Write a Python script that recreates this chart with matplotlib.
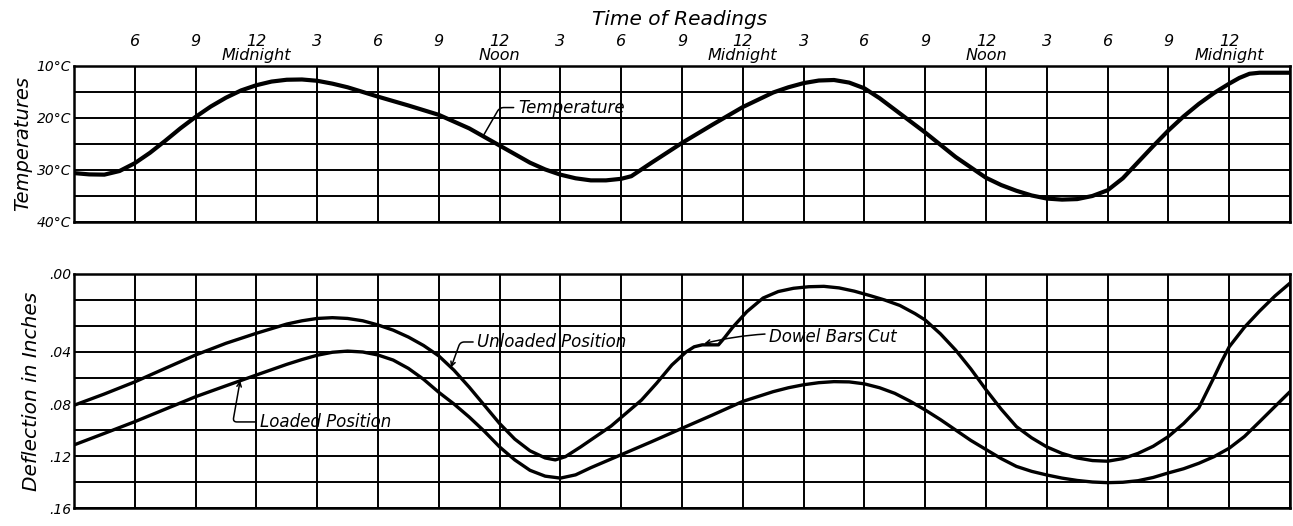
import numpy as np
import matplotlib
matplotlib.use("Agg")
import matplotlib.pyplot as plt

# Hours after 3 p.m. on the first day; gridlines every 3 hours
hours_grid = list(range(0, 61, 3))
time_labels = ["", "6\n", "9\n", "12\nMidnight", "3\n", "6\n", "9\n", "12\nNoon",
               "3\n", "6\n", "9\n", "12\nMidnight", "3\n", "6\n", "9\n", "12\nNoon",
               "3\n", "6\n", "9\n", "12\nMidnight", ""]

# Temperature readings (deg C)
temp_hours = [0, 0.75, 1.5, 2.25, 3, 3.75, 4.5, 5.25, 6, 6.75, 7.5, 8.25, 9, 9.75,
              10.5, 11.25, 12, 12.75, 13.5, 15, 16.5, 18, 19.5, 21, 22.5, 23.25, 24,
              24.75, 25.5, 26.25, 27, 27.5, 28.5, 30, 31.5, 33, 34.5, 35.25, 36,
              36.75, 37.5, 38.25, 39, 39.75, 40.5, 42, 43.5, 45, 45.75, 46.5, 47.25,
              48, 48.75, 49.5, 50.25, 51, 51.75, 52.5, 53.25, 54, 54.75, 55.5, 56.25,
              57, 57.5, 58, 58.5, 60]
temp_vals = [30.6, 30.85, 30.9, 30.2, 28.7, 26.7, 24.4, 22.0, 19.8, 17.8, 16.1, 14.7,
             13.7, 13.0, 12.65, 12.6, 12.85, 13.4, 14.1, 15.9, 17.6, 19.4, 22.0, 25.3,
             28.6, 29.9, 30.9, 31.6, 32.0, 32.0, 31.7, 31.2, 28.6, 24.8, 21.3, 17.9,
             15.1, 14.1, 13.3, 12.8, 12.7, 13.2, 14.3, 16.2, 18.4, 22.8, 27.5, 31.5,
             32.9, 34.0, 34.9, 35.5, 35.7, 35.6, 35.0, 33.9, 31.6, 28.5, 25.4, 22.4,
             19.7, 17.3, 15.2, 13.4, 12.3, 11.5, 11.3, 11.3]

# Deflection of the slab (inches)
unl_hours = [0, 1.5, 3, 4.5, 6, 7.5, 9, 10.5, 11.25, 12, 12.75, 13.5, 14.25, 15,
             15.75, 16.5, 17.25, 18, 18.75, 19.5, 20.25, 21, 21.75, 22.5, 23.25,
             23.75, 24.25, 25, 25.75, 26.5, 27.25, 28, 28.75, 29.5, 30.2, 30.6, 31.0,
             31.8, 32.1, 32.5, 33.2, 34, 34.75, 35.5, 36.25, 37, 37.75, 38.5, 39.25,
             40, 40.75, 41.5, 42, 42.75, 43.5, 44.25, 45, 45.75, 46.5, 47.25, 48,
             48.75, 49.5, 50.25, 51, 51.75, 52.5, 53.25, 54, 54.75, 55.5, 56.2, 56.6,
             57, 57.75, 58.5, 59.25, 60]
unl_vals = [0.081, 0.0723, 0.063, 0.0526, 0.0423, 0.0333, 0.0256, 0.0185, 0.0160,
            0.0142, 0.0136, 0.0142, 0.0160, 0.0192, 0.0232, 0.0285, 0.035, 0.043,
            0.054, 0.067, 0.081, 0.095, 0.107, 0.116, 0.1215, 0.123, 0.1205, 0.113,
            0.105, 0.097, 0.087, 0.077, 0.064, 0.050, 0.040, 0.036, 0.0345, 0.0345,
            0.029, 0.021, 0.009, -0.0015, -0.0065, -0.009, -0.0102, -0.0105, -0.0093,
            -0.0068, -0.0035, 0.0, 0.0042, 0.0105, 0.0154, 0.026, 0.0385, 0.053,
            0.069, 0.084, 0.0974, 0.106, 0.113, 0.118, 0.1215, 0.1235, 0.124, 0.122,
            0.118, 0.1125, 0.105, 0.095, 0.083, 0.061, 0.048, 0.036, 0.021, 0.0085,
            -0.003, -0.013]

load_hours = [0, 1.5, 3, 4.5, 6, 7.5, 9, 10.5, 11.25, 12, 12.75, 13.5, 14.25, 15,
              15.75, 16.5, 17.25, 18, 18.75, 19.5, 20.25, 21, 21.75, 22.5, 23.25, 24,
              24.75, 25.5, 27, 28.5, 30, 31.5, 33, 34.5, 35.25, 36, 36.75, 37.5,
              38.25, 39, 39.75, 40.5, 41.25, 42, 42.75, 43.5, 44.25, 45, 45.75, 46.5,
              47.25, 48, 48.75, 49.5, 50.25, 51, 51.75, 52.5, 53.25, 54, 54.75, 55.5,
              56.25, 57, 57.75, 58.5, 59.25, 60]
load_vals = [0.1115, 0.1026, 0.0936, 0.084, 0.0744, 0.066, 0.0577, 0.0495, 0.0458,
             0.0425, 0.0402, 0.0393, 0.0400, 0.0423, 0.0462, 0.0526, 0.061, 0.071,
             0.080, 0.090, 0.101, 0.113, 0.123, 0.131, 0.1355, 0.137, 0.1345, 0.129,
             0.119, 0.109, 0.0987, 0.0885, 0.078, 0.0705, 0.0675, 0.0652, 0.0636,
             0.0628, 0.0630, 0.0645, 0.0675, 0.0718, 0.0778, 0.0846, 0.092, 0.100,
             0.108, 0.115, 0.122, 0.128, 0.1318, 0.1346, 0.1370, 0.1388, 0.1400,
             0.1405, 0.1402, 0.139, 0.1365, 0.133, 0.1298, 0.1256, 0.1205, 0.114,
             0.105, 0.0936, 0.082, 0.0705]

temp_ticks = [10, 15, 20, 25, 30, 35, 40]
temp_labels = ["10°C", "", "20°C", "", "30°C", "", "40°C"]
defl_ticks = [-0.02, 0.0, 0.02, 0.04, 0.06, 0.08, 0.10, 0.12, 0.14, 0.16]
defl_labels = [".00", "", "", ".04", "", ".08", "", ".12", "", ".16"]

FONT = dict(family="DejaVu Sans", style="italic")

fig = plt.figure(figsize=(12.93, 5.26), dpi=100)
ax1 = fig.add_axes([0.0572, 0.578, 0.9405, 0.2966])
ax2 = fig.add_axes([0.0572, 0.0342, 0.9405, 0.4449])

for ax in (ax1, ax2):
    ax.set_xlim(0, 60)
    ax.set_xticks(hours_grid)
    ax.grid(True, color="black", linewidth=1.4)
    ax.tick_params(length=0, pad=2)
    for s in ax.spines.values():
        s.set_linewidth(1.8)
    ax.set_axisbelow(True)

# top panel: temperature
ax1.set_ylim(40, 10)
ax1.set_yticks(temp_ticks)
ax1.set_yticklabels(temp_labels, fontsize=10, **FONT)
ax1.xaxis.tick_top()
ax1.set_xticklabels(time_labels, fontsize=11.5, linespacing=0.9, **FONT)
ax1.set_ylabel("Temperatures", fontsize=14, labelpad=3, **FONT)
fig.text(0.526, 0.962, "Time of Readings", fontsize=14.5, ha="center", va="center",
         **FONT)
ax1.plot(temp_hours, temp_vals, color="black", linewidth=3,
         solid_joinstyle="round", solid_capstyle="round")
ax1.annotate("Temperature", xy=(20.2, 23.4), xytext=(21.9, 18.0),
             fontsize=12, va="center", ha="left", **FONT,
             arrowprops=dict(arrowstyle="-", color="black", lw=1.1,
                             connectionstyle="angle,angleA=180,angleB=60,rad=4",
                             shrinkA=1, shrinkB=0))

# bottom panel: deflection
ax2.set_ylim(0.16, -0.02)
ax2.set_yticks(defl_ticks)
ax2.set_yticklabels(defl_labels, fontsize=10, **FONT)
ax2.set_xticklabels([])
ax2.set_ylabel("Deflection in Inches", fontsize=14.5, labelpad=6, **FONT)
ax2.plot(unl_hours, unl_vals, color="black", linewidth=2.4,
         solid_joinstyle="round", solid_capstyle="round")
ax2.plot(load_hours, load_vals, color="black", linewidth=2.4,
         solid_joinstyle="round", solid_capstyle="round")

leader = dict(arrowstyle="->", color="black", lw=1.1, shrinkA=1, shrinkB=0,
              mutation_scale=8)
ax2.annotate("Unloaded Position", xy=(18.6, 0.052), xytext=(19.9, 0.0323),
             fontsize=12, va="center", ha="left", **FONT,
             arrowprops=dict(leader, connectionstyle="angle,angleA=180,angleB=70,rad=4"))
ax2.annotate("Loaded Position", xy=(8.2, 0.062), xytext=(9.2, 0.0938),
             fontsize=12, va="center", ha="left", **FONT,
             arrowprops=dict(leader, connectionstyle="angle,angleA=180,angleB=80,rad=4"))
ax2.annotate("Dowel Bars Cut", xy=(31.1, 0.0335), xytext=(34.3, 0.0285),
             fontsize=12, va="center", ha="left", **FONT,
             arrowprops=dict(leader, connectionstyle="arc3,rad=0.1"))

fig.savefig("out.png", dpi=100, facecolor="white")
